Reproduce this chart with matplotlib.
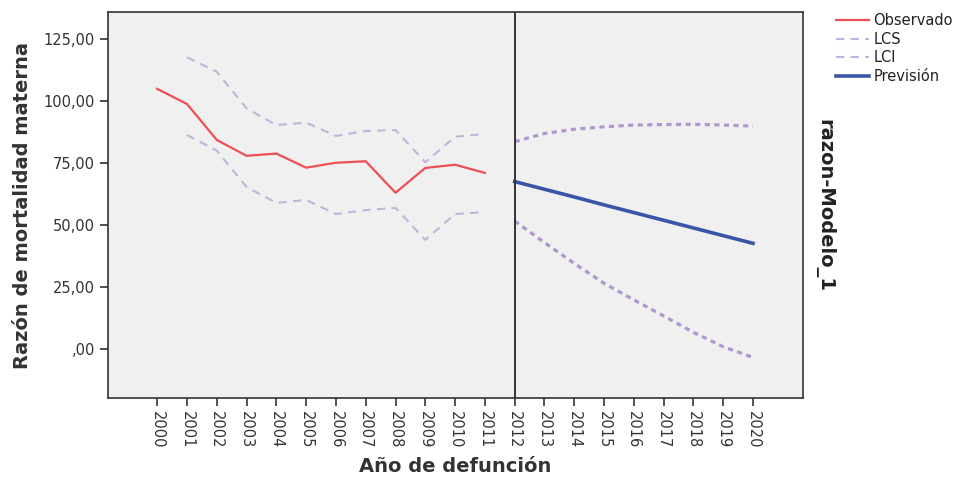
import numpy as np
import matplotlib
matplotlib.use("Agg")
import matplotlib.pyplot as plt

# datos observados
anios_obs = [2001, 2002, 2003, 2004, 2005, 2006, 2007, 2008, 2009, 2010, 2011]
observado = [104.9, 98.8, 84.3, 77.9, 78.8, 73.1, 75.1, 75.7, 63.0, 73.0, 74.3, 71.0]
anios_observado = [2000] + anios_obs
lcs_obs = [117.6, 111.8, 97.0, 90.3, 91.3, 85.9, 87.9, 88.3, 75.3, 85.6, 86.7]
lci_obs = [86.3, 80.0, 65.3, 58.9, 60.1, 54.4, 56.0, 56.9, 44.0, 54.4, 55.2]

# prevision
anios_prev = [2012, 2013, 2014, 2015, 2016, 2017, 2018, 2019, 2020]
prevision = [67.5, 64.4, 61.3, 58.1, 55.0, 51.9, 48.8, 45.7, 42.6]
lcs_prev = [83.6, 86.9, 88.6, 89.6, 90.3, 90.5, 90.6, 90.3, 89.9]
lci_prev = [51.6, 42.9, 34.5, 26.5, 19.8, 13.3, 6.7, 0.9, -3.4]

y_ticks = [0, 25, 50, 75, 100, 125]
y_labels = [",00", "25,00", "50,00", "75,00", "100,00", "125,00"]
x_ticks = list(range(2000, 2021))

fig = plt.figure(figsize=(9.56, 4.79), dpi=100)
ax = fig.add_axes([0.113, 0.169, 0.727, 0.806])
ax.set_facecolor("#f0f0f0")

rojo = "#ee4f55"
lila = "#bdb6da"
lila2 = "#ae98cf"
azul = "#3a55a8"

ax.plot(anios_observado, observado, color=rojo, lw=1.6, label="Observado")
ax.plot(anios_obs, lcs_obs, color=lila, lw=1.5, ls=(0, (4, 3)), label="LCS")
ax.plot(anios_obs, lci_obs, color=lila, lw=1.5, ls=(0, (4, 3)), label="LCI")
ax.plot(anios_prev, prevision, color=azul, lw=2.6, label="Previsión")
ax.plot(anios_prev, lcs_prev, color=lila2, lw=2.3, ls=(0, (1.6, 1.4)))
ax.plot(anios_prev, lci_prev, color=lila2, lw=2.3, ls=(0, (1.6, 1.4)))
ax.axvline(2012, color="#333333", lw=1.4)

ax.set_xlim(1998.35, 2021.68)
ax.set_ylim(-19.8, 135.9)
ax.set_xticks(x_ticks)
ax.set_xticklabels([str(a) for a in x_ticks], rotation=270, fontsize=10.5, color="#333333")
ax.set_yticks(y_ticks)
ax.set_yticklabels(y_labels, fontsize=10.5, color="#333333")
ax.tick_params(axis="both", direction="out", length=6, width=1.2, color="#333333")
for s in ax.spines.values():
    s.set_color("#333333")
    s.set_linewidth(1.2)

ax.set_xlabel("Año de defunción", fontsize=14, fontweight="bold", color="#333333", labelpad=6)
ax.set_ylabel("Razón de mortalidad materna", fontsize=14, fontweight="bold", color="#333333", labelpad=8)

fig.text(0.862, 0.572, "razon-Modelo_1", rotation=270, fontsize=14, fontweight="bold",
         ha="center", va="center", color="#222222")

leg = fig.legend(loc="upper left", bbox_to_anchor=(0.868, 0.985), frameon=False, fontsize=10.5,
                 handlelength=2.3, handletextpad=0.3, labelspacing=0.25, borderaxespad=0)
for t in leg.get_texts():
    t.set_color("#222222")

fig.savefig("out.png", dpi=100)
